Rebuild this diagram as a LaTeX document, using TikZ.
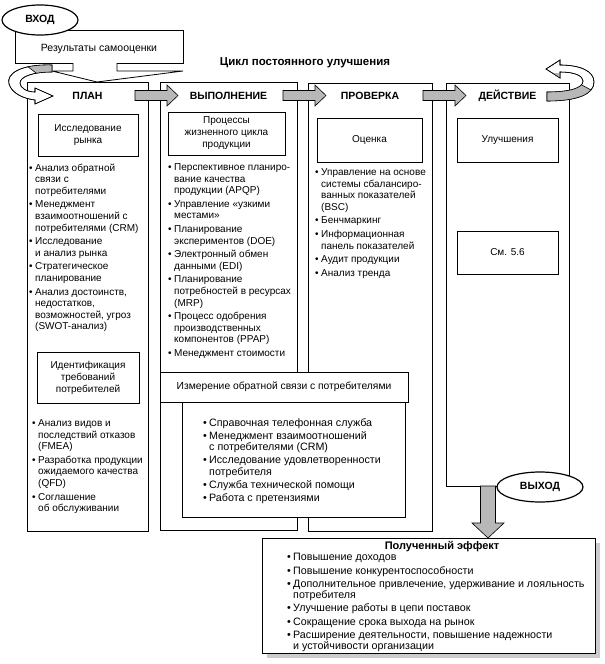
\documentclass[tikz,border=0pt]{standalone}
\usepackage{fontspec}
\setmainfont{Liberation Sans}
\usetikzlibrary{shapes.geometric}
\newcommand\bu{\makebox[6pt][l]{\textbullet}}
\newcommand\hi{\hspace*{6pt}}
\begin{document}
\begin{tikzpicture}[x=1pt,y=-1pt,
  colbox/.style={draw,line width=0.8pt,anchor=north west,inner sep=0pt},
  ibox/.style={draw,line width=0.8pt,fill=white,inner sep=0pt,align=center,font=\fontsize{10}{12}\selectfont},
  lst/.style={anchor=north west,inner sep=0pt,align=left,font=\fontsize{10}{11.6}\selectfont},
  hdr/.style={inner sep=0pt,font=\fontsize{10.5}{12}\selectfont\bfseries},
  blk/.style={draw,line width=0.6pt,fill=black!28},
  rib/.style={draw,line width=0.6pt,fill=white},
  oval/.style={ellipse,draw,line width=1.2pt,fill=white,inner sep=0pt,font=\fontsize{10.5}{12}\selectfont\bfseries}]

\fill[white] (0,0) rectangle (605,664);
\useasboundingbox (0,0) rectangle (605,664);

% input box with funnel
\draw[line width=0.8pt] (73,63) -- (15,63) -- (15,30) -- (183,30) -- (183,63) -- (117,63);
\draw[line width=0.8pt] (73,63) -- (73,71) -- (52,71) -- (97,82) -- (183,71) -- (117,71) -- (117,63);
\node[inner sep=0pt,font=\fontsize{10.5}{12}\selectfont,anchor=base] (selfres) at (99,51) {Результаты самооценки};
\node[oval,minimum width=76pt,minimum height=30pt] (vhod) at (40,20) {ВХОД};

% title
\node[inner sep=0pt,font=\fontsize{11.5}{13}\selectfont\bfseries,anchor=base] (title) at (305,65) {Цикл постоянного улучшения};

% columns
\node[colbox,minimum width=121pt,minimum height=449pt] (plan) at (27,82) {};
\node[colbox,minimum width=137pt,minimum height=448pt] (vyp) at (160,82) {};
\node[colbox,minimum width=124pt,minimum height=448pt] (prov) at (308,83) {};
\node[colbox,minimum width=123pt,minimum height=403pt] (deist) at (446,83) {};

% block arrows between columns
\draw[blk] (135,90.5) -- (167,90.5) -- (167,85) -- (178,95.5) -- (167,106) -- (167,100.5) -- (135,100.5) -- cycle;
\draw[blk] (283,90.5) -- (315,90.5) -- (315,85) -- (326,95.5) -- (315,106) -- (315,100.5) -- (283,100.5) -- cycle;
\draw[blk] (423,90.5) -- (455,90.5) -- (455,85) -- (466,95.5) -- (455,106) -- (455,100.5) -- (423,100.5) -- cycle;

% headers
\node[hdr] (hplan) at (87.5,95.5) {ПЛАН};
\node[hdr] (hvyp) at (228.5,95.5) {ВЫПОЛНЕНИЕ};
\node[hdr] (hprov) at (370,95.5) {ПРОВЕРКА};
\node[hdr] (hdeist) at (507.5,95.5) {ДЕЙСТВИЕ};

% left curved ribbon arrow
\path[rib] (52,65) .. controls (20,64) and (6,74) .. (9,84) .. controls (12,94) and (25,99) .. (35,100) -- (35,104) -- (53,96) -- (35,88) -- (35,92) .. controls (27,92) and (20,88) .. (20,83) .. controls (20,77) and (32,72) .. (52,72) -- cycle;
\begin{scope}
\clip (60,55) -- (12.7,55) -- (45.1,80) -- (60,80) -- cycle;
\fill[black!28] (52,65) .. controls (20,64) and (6,74) .. (9,84) .. controls (12,94) and (25,99) .. (35,100) -- (35,104) -- (53,96) -- (35,88) -- (35,92) .. controls (27,92) and (20,88) .. (20,83) .. controls (20,77) and (32,72) .. (52,72) -- cycle;
\end{scope}
\draw[line width=0.6pt] (52,65) .. controls (20,64) and (6,74) .. (9,84) .. controls (12,94) and (25,99) .. (35,100) -- (35,104) -- (53,96) -- (35,88) -- (35,92) .. controls (27,92) and (20,88) .. (20,83) .. controls (20,77) and (32,72) .. (52,72) -- cycle;
\draw[line width=0.6pt] (28,66.8) -- (36.3,73.2);

% right curved ribbon arrow
\path[rib] (547,101) .. controls (578,101) and (594,94) .. (594,82) .. controls (594,71) and (580,65) .. (560,65) -- (560,60) -- (546,69) -- (560,78) -- (560,72) .. controls (575,72) and (583,76) .. (583,81) .. controls (583,88) and (570,92) .. (547,92) -- cycle;
\begin{scope}
\clip (540,73) -- (560,73) -- (600,94.9) -- (600,110) -- (540,110) -- cycle;
\fill[black!28] (547,101) .. controls (578,101) and (594,94) .. (594,82) .. controls (594,71) and (580,65) .. (560,65) -- (560,60) -- (546,69) -- (560,78) -- (560,72) .. controls (575,72) and (583,76) .. (583,81) .. controls (583,88) and (570,92) .. (547,92) -- cycle;
\end{scope}
\draw[line width=0.6pt] (547,101) .. controls (578,101) and (594,94) .. (594,82) .. controls (594,71) and (580,65) .. (560,65) -- (560,60) -- (546,69) -- (560,78) -- (560,72) .. controls (575,72) and (583,76) .. (583,81) .. controls (583,88) and (570,92) .. (547,92) -- cycle;
\draw[line width=0.6pt] (591,90) -- (581.5,84.8);

% inner title boxes
\node[ibox,minimum width=100pt,minimum height=42pt] (issl) at (88,135) {Исследование\\рынка};
\node[ibox,minimum width=102pt,minimum height=51pt] (ident) at (88,377.5) {Идентификация\\требований\\потребителей};
\node[ibox,minimum width=117pt,minimum height=43pt] (proc) at (226.5,133.5) {Процессы\\жизненного цикла\\продукции};
\node[ibox,minimum width=105pt,minimum height=44pt] (ocen) at (369.5,140) {Оценка};
\node[ibox,minimum width=101pt,minimum height=44pt] (uluch) at (507.5,140) {Улучшения};
\node[ibox,minimum width=101pt,minimum height=43pt] (sm) at (507.5,252.5) {См. 5.6};

% lists
\node[lst] (l1) at (29,163.4) {\bu Анализ обратной\\\hi связи с\\\hi потребителями\\[2pt]
\bu Менеджмент\\\hi взаимоотношений с\\\hi потребителями (CRM)\\[2pt]
\bu Исследование\\\hi и анализ рынка\\[2pt]
\bu Стратегическое\\\hi планирование\\[2pt]
\bu Анализ достоинств,\\\hi недостатков,\\\hi возможностей, угроз\\\hi (SWOT-анализ)};

\node[lst] (l2) at (32,419.4) {\bu Анализ видов и\\\hi последствий отказов\\\hi (FMEA)\\[2pt]
\bu Разработка продукции\\\hi ожидаемого качества\\\hi (QFD)\\[2pt]
\bu Соглашение\\\hi об обслуживании};

\node[lst] (l3) at (168,163.4) {\bu Перспективное планиро-\\\hi вание качества\\\hi продукции (APQP)\\[2pt]
\bu Управление «узкими\\\hi местами»\\[2pt]
\bu Планирование\\\hi экспериментов (DOE)\\[2pt]
\bu Электронный обмен\\\hi данными (EDI)\\[2pt]
\bu Планирование\\\hi потребностей в ресурсах\\\hi (MRP)\\[2pt]
\bu Процесс одобрения\\\hi производственных\\\hi компонентов (PPAP)\\[2pt]
\bu Менеджмент стоимости};

\node[lst] (l4) at (315,168.4) {\bu Управление на основе\\\hi системы сбалансиро-\\\hi ванных показателей\\\hi (BSC)\\[2pt]
\bu Бенчмаркинг\\[2pt]
\bu Информационная\\\hi панель показателей\\[2pt]
\bu Аудит продукции\\[2pt]
\bu Анализ тренда};

% feedback measurement
\node[draw,line width=0.8pt,fill=white,inner sep=0pt,minimum width=223pt,minimum height=115pt] (fbl) at (293.5,459.5) {};
\node[ibox,minimum width=248pt,minimum height=30pt,font=\fontsize{10.3}{12}\selectfont] (meas) at (284,387) {Измерение обратной связи с потребителями};
\node[lst,font=\fontsize{10.7}{11.2}\selectfont] (l5) at (203,418.2) {\bu Справочная телефонная служба\\[2pt]
\bu Менеджмент взаимоотношений\\\hi с потребителями (CRM)\\[2pt]
\bu Исследование удовлетворенности\\\hi потребителя\\[2pt]
\bu Служба технической помощи\\[2pt]
\bu Работа с претензиями};

% output
\draw[blk] (480.5,486) -- (495.5,486) -- (495.5,523) -- (504,523) -- (488,538) -- (472,523) -- (480.5,523) -- cycle;
\node[oval,minimum width=86pt,minimum height=30pt] (vyhod) at (540,487) {ВЫХОД};

\fill[black!20] (267,543) rectangle (600,658);
\node[draw,line width=0.8pt,fill=white,anchor=north west,inner sep=0pt,minimum width=333pt,minimum height=115pt] (res) at (262,538) {};
\node[inner sep=0pt,font=\fontsize{11}{13}\selectfont\bfseries,anchor=base] (restitle) at (442,549) {Полученный эффект};
\node[lst,font=\fontsize{10.7}{10.5}\selectfont] (l6) at (287,553.2) {\bu Повышение доходов\\[3pt]
\bu Повышение конкурентоспособности\\[3pt]
\bu Дополнительное привлечение, удерживание и лояльность\\\hi потребителя\\[3pt]
\bu Улучшение работы в цепи поставок\\[3pt]
\bu Сокращение срока выхода на рынок\\[3pt]
\bu Расширение деятельности, повышение надежности\\\hi и устойчивости организации};
\end{tikzpicture}
\end{document}
